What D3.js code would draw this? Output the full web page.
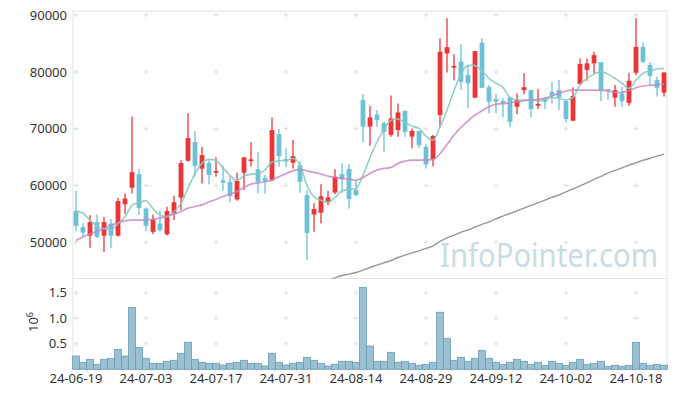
<!DOCTYPE html>
<html><head><meta charset="utf-8">
<script src="https://cdn.jsdelivr.net/npm/d3@7/dist/d3.min.js"></script>
<style>body{margin:0;background:#fff}svg{display:block}text{font-family:"Noto Sans",sans-serif}</style>
</head><body><svg id="c" width="677" height="397"></svg>
<script>
// ---- data ----
const dates = ["24-06-19","24-06-20","24-06-21","24-06-24","24-06-25","24-06-26","24-06-27","24-06-28",
"24-07-01","24-07-02","24-07-03","24-07-04","24-07-05","24-07-08","24-07-09","24-07-10","24-07-11","24-07-12",
"24-07-15","24-07-16","24-07-17","24-07-18","24-07-19","24-07-22","24-07-23","24-07-24","24-07-25","24-07-26",
"24-07-29","24-07-30","24-07-31","24-08-01","24-08-02","24-08-05","24-08-06","24-08-07","24-08-08","24-08-09",
"24-08-12","24-08-13","24-08-14","24-08-16","24-08-19","24-08-20","24-08-21","24-08-22","24-08-23","24-08-26",
"24-08-27","24-08-28","24-08-29","24-08-30","24-09-02","24-09-03","24-09-04","24-09-05","24-09-06","24-09-09",
"24-09-10","24-09-11","24-09-12","24-09-13","24-09-19","24-09-20","24-09-23","24-09-24","24-09-25","24-09-26",
"24-09-27","24-09-30","24-10-02","24-10-04","24-10-07","24-10-08","24-10-10","24-10-11","24-10-14","24-10-15",
"24-10-16","24-10-17","24-10-18","24-10-21","24-10-22","24-10-23","24-10-24"];
const openP = [55500,52650,51150,53550,51150,53300,51150,56700,59600,62000,55950,51850,53300,51400,55050,57850,64350,67650,
62950,63950,62250,60900,60600,57550,62250,64300,62850,61350,60900,69050,64650,64000,63600,58300,54900,55200,57000,58750,
62000,62900,59200,75050,70350,72500,70950,68900,69750,73100,68600,69600,66800,64600,72400,83250,80750,81800,79450,75450,
85150,77300,75200,74850,75550,73850,76800,76800,74050,75350,76500,76800,74900,71400,77850,80350,81500,81700,76950,75450,
76200,74550,79850,84400,81200,78550,76350];
const highP = [59050,53400,54750,54900,54450,54100,57850,58600,72150,62850,56100,54900,55650,56250,58200,64450,72700,69600,
66750,64450,64950,63450,61650,62250,65000,67600,65950,61850,72000,69950,66550,68000,64200,59200,56850,60200,59050,62850,
63900,63800,60950,76050,74000,73300,71200,75850,74450,73300,70050,69600,67250,68900,85900,89450,83100,84850,81200,83700,
85900,77700,76200,75350,75600,76200,79750,76850,76950,75500,78250,78550,74950,77300,82350,82350,83550,81700,76950,77700,
77400,79750,89450,85200,81700,79150,79900];
const lowP = [51950,50900,49050,50700,48350,49000,51000,55000,58600,54800,51950,51400,51850,51200,53900,55650,64200,61550,
60350,60200,61550,59050,57000,57300,59200,63350,58600,58600,60800,63300,63250,63000,58700,46850,51850,53300,56500,58450,
58600,55950,58100,67600,67000,70350,65800,68600,68600,68600,66550,66550,63000,63400,70350,79900,78500,76800,73600,75400,
77200,72700,72700,72000,70250,72550,76050,72000,73450,73450,74450,73300,71100,71400,77850,78450,79750,74850,75050,73850,
73850,74050,79400,81500,77700,75650,75650];
const closeP = [52900,51700,53550,50950,53550,51150,57250,57700,62350,56050,52900,54000,52150,55500,57050,63950,68350,63450,
65350,61850,62550,60500,58150,60800,64950,64600,60650,60800,69750,65150,64200,65150,60650,51650,55850,58100,57900,61550,
61100,57600,58300,70350,72000,71500,69450,71800,72850,69450,69600,67100,63700,68700,83550,84350,81050,78250,78000,83650,
77200,74750,74750,74450,71200,75050,77300,73450,74350,74750,75800,75500,71700,75750,81400,81500,82950,76700,76650,76800,
74850,78450,84400,81800,79300,77200,79900];
const volume = [260000,137000,196000,98000,196000,216000,390000,260000,1215000,430000,216000,118000,118000,157000,176000,314000,530000,196000,
137000,118000,118000,84000,118000,137000,176000,118000,118000,65000,314000,137000,84000,118000,137000,235000,176000,118000,65000,98000,
157000,157000,137000,1608000,457000,157000,157000,333000,137000,157000,118000,78000,98000,137000,1118000,608000,176000,235000,157000,216000,
372000,216000,137000,98000,137000,196000,157000,98000,137000,78000,157000,118000,78000,137000,196000,98000,118000,157000,59000,78000,
59000,78000,529000,118000,78000,98000,78000];
const ma5 = [55480,55100,53900,52800,52400,52200,53300,54500,56500,57000,57300,55900,54800,54500,55400,56800,59500,62100,
63900,64600,64400,63100,61800,60900,61650,62000,62100,62700,64150,64350,64450,64750,63600,60050,58000,57400,57100,57900,
59050,59300,59500,61800,64900,67700,69800,71500,71700,71050,70450,70050,68700,68000,70300,73250,76700,79600,81150,81100,
80150,78850,78000,77250,75500,75050,75050,75050,74900,75150,75500,75350,75050,75500,77700,78850,79600,80050,79600,78850,
78000,77100,78550,79750,80150,80500,80600];
const ma20 = [50320,50960,51430,51900,52430,52960,53420,53770,53900,53900,53900,54070,54250,54600,54950,55420,56010,56300,
56590,57120,57540,58050,58450,59000,59650,60240,60470,60650,60940,61530,62110,62580,62830,62580,62300,62000,61650,61410,
61240,61120,60940,61410,62110,62710,63000,63180,63890,64290,64470,64470,64470,64590,65580,67200,68870,70230,71390,72400,
73160,73860,74330,74390,74570,74740,74920,75040,75160,75390,75750,76220,76630,76800,76800,76800,76800,76740,76630,76400,
76400,76680,77210,77510,77630,77740,77860];
const maLongStartIndex = 36;
const maLong = [43350,43730,44150,44380,44680,45090,45560,45970,46370,46790,47320,47730,48130,48490,48910,49370,50150,50780,
51250,51780,52190,52660,53140,53600,54130,54600,55070,55530,56010,56480,56940,57420,57890,58350,58880,59410,59940,60470,
61060,61590,62180,62650,63110,63590,63990,64420,64770,65170,65530];
const priceTicks = [50000,60000,70000,80000,90000];
const volumeTicks = [500000,1000000,1500000];
const tickLabels = ["24-06-19","24-07-03","24-07-17","24-07-31","24-08-14","24-08-29","24-09-12","24-10-02","24-10-18"];

// ---- layout ----
const svg = d3.select("#c");
const L = 72.5, R = 667.5, PT = 11, PB = 278.5, VT = 278.5, VB = 369;
const RED = "#ee3535", BLUE = "#6cc0d8";

const x = d3.scaleBand().domain(dates).range([L, R]).padding(0);
const cx = d => x(d) + x.bandwidth() / 2;
const yP = d3.scaleLinear().domain([43620, 90720]).range([PB, PT]);
const yV = d3.scaleLinear().domain([0, 1780000]).range([369.3, VT]);

svg.append("defs").append("clipPath").attr("id","pclip")
  .append("rect").attr("x",L).attr("y",PT).attr("width",R-L).attr("height",PB-PT);

// watermark
svg.append("text").attr("x",440).attr("y",267).attr("font-size",32)
  .attr("fill","#c9dbe5").attr("textLength",218).attr("lengthAdjust","spacingAndGlyphs")
  .text("InfoPointer.com");

// frames
const frame = svg.append("g").attr("stroke","#e4e4e4").attr("fill","none");
frame.append("rect").attr("x",73).attr("y",PT).attr("width",R-0.5-73).attr("height",PB-PT);
frame.append("rect").attr("x",73).attr("y",VT).attr("width",R-0.5-73).attr("height",VB-VT);

// grid crosses
const gx = tickLabels.map(t => cx(t));
const gys = priceTicks.map(v => yP(v)).concat(volumeTicks.map(v => yV(v)));
const crosses = [];
gx.forEach(a => gys.forEach(b => crosses.push([a,b])));
svg.append("g").selectAll("path").data(crosses).join("path")
  .attr("d", d => `M${d[0]-2.5},${d[1]}H${d[0]+2.5}M${d[0]},${d[1]-2.5}V${d[1]+2.5}`)
  .attr("stroke","#dedede").attr("stroke-width",1);

// volume bars
svg.append("g").selectAll("rect").data(dates).join("rect")
  .attr("x", d => x(d)).attr("width", x.bandwidth())
  .attr("y", (d,i) => yV(volume[i])).attr("height", (d,i) => yV(0) - yV(volume[i]))
  .attr("fill","#9bc0d1").attr("stroke","#6a9db4").attr("stroke-width",0.8);

// candles
const cg = svg.append("g").attr("clip-path","url(#pclip)");
cg.selectAll("line").data(dates).join("line")
  .attr("x1", d => cx(d)).attr("x2", d => cx(d))
  .attr("y1", (d,i) => yP(highP[i])).attr("y2", (d,i) => yP(lowP[i]))
  .attr("stroke", (d,i) => closeP[i] >= openP[i] ? RED : BLUE).attr("stroke-width",1.3);
cg.selectAll("rect").data(dates).join("rect")
  .attr("x", d => cx(d) - 2.4).attr("width", 4.8)
  .attr("y", (d,i) => yP(Math.max(openP[i], closeP[i])))
  .attr("height", (d,i) => Math.max(1.2, Math.abs(yP(openP[i]) - yP(closeP[i]))))
  .attr("fill", (d,i) => closeP[i] >= openP[i] ? RED : BLUE);

// moving averages
const lineGen = d3.line().x(d => cx(d[0])).y(d => yP(d[1])).curve(d3.curveMonotoneX);
const lg = svg.append("g").attr("clip-path","url(#pclip)").attr("fill","none");
lg.append("path").attr("d", lineGen(dates.map((d,i) => [d, ma5[i]])))
  .attr("stroke","#86cbbf").attr("stroke-width",1.6).attr("stroke-opacity",0.9);
lg.append("path").attr("d", lineGen(dates.map((d,i) => [d, ma20[i]])))
  .attr("stroke","#c684c4").attr("stroke-width",1.7).attr("stroke-opacity",0.8);
lg.append("path").attr("d", lineGen(maLong.map((v,i) => [dates[i + maLongStartIndex], v])))
  .attr("stroke","#969696").attr("stroke-width",1.4);

// axes
function styleAxis(g){
  g.select(".domain").remove();
  g.selectAll("text").attr("font-family","Noto Sans, sans-serif").attr("font-size",13).attr("fill","#333");
}
svg.append("g").attr("transform","translate(73,0)")
  .call(d3.axisLeft(yP).tickValues(priceTicks).tickSize(0).tickPadding(6).tickFormat(d3.format("d")))
  .call(styleAxis);
svg.append("g").attr("transform","translate(73,0)")
  .call(d3.axisLeft(yV).tickValues(volumeTicks).tickSize(0).tickPadding(6).tickFormat(d => (d/1e6).toFixed(1)))
  .call(styleAxis);
svg.append("g").attr("transform",`translate(0,${VB})`)
  .call(d3.axisBottom(x).tickValues(tickLabels).tickSize(0).tickPadding(5))
  .call(styleAxis);

// volume unit label
const ul = svg.append("text").attr("transform","translate(38,332) rotate(-90)")
  .attr("font-size",13).attr("fill","#333");
ul.append("tspan").text("10");
ul.append("tspan").attr("dy",-5).attr("font-size",9).text("6");
</script></body></html>
